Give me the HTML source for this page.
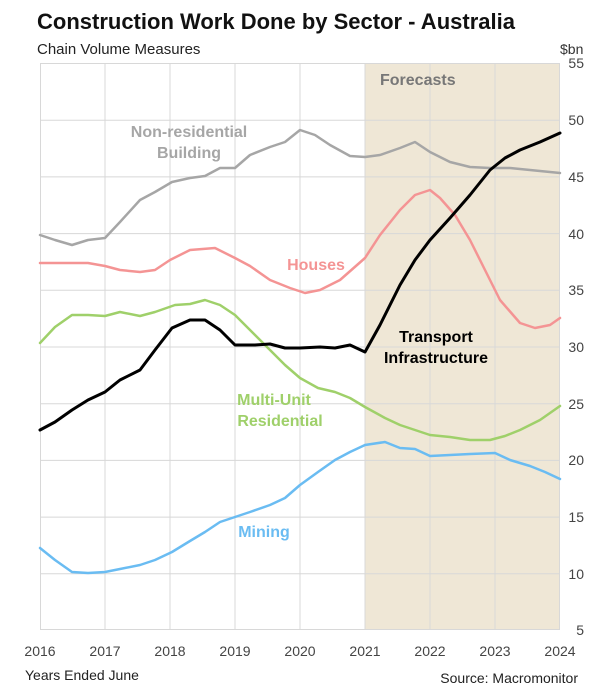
<!DOCTYPE html>
<html><head><style>
body{margin:0;background:#fff;}
svg text{font-family:"Liberation Sans",sans-serif;}
</style></head><body>
<svg width="601" height="692" viewBox="0 0 601 692" xmlns="http://www.w3.org/2000/svg">
<rect width="601" height="692" fill="#fff"/>
<text x="37" y="29" font-size="22" font-weight="bold" fill="#111">Construction Work Done by Sector - Australia</text>
<text x="37" y="54" font-size="15" fill="#222">Chain Volume Measures</text>
<text x="560" y="54" font-size="14" fill="#333">$bn</text>
<rect x="365" y="63" width="195" height="567" fill="#efe7d6"/>
<g stroke="#d8d8d8" stroke-width="1" fill="none">
<rect x="40.5" y="63.5" width="519" height="566"/>
<path d="M40 120.2H560M40 176.9H560M40 233.6H560M40 290.3H560M40 347H560M40 403.7H560M40 460.4H560M40 517.1H560M40 573.8H560"/>
<path d="M105 63V630M170 63V630M235 63V630M300 63V630M365 63V630M430 63V630M495 63V630"/>
</g>
<g font-size="14" fill="#444" text-anchor="end">
<text x="584" y="68">55</text><text x="584" y="125">50</text><text x="584" y="182">45</text><text x="584" y="239">40</text><text x="584" y="295">35</text><text x="584" y="352">30</text><text x="584" y="409">25</text><text x="584" y="465">20</text><text x="584" y="522">15</text><text x="584" y="579">10</text><text x="584" y="635">5</text>
</g>
<g font-size="14" fill="#444" text-anchor="middle">
<text x="40" y="656">2016</text><text x="105" y="656">2017</text><text x="170" y="656">2018</text><text x="235" y="656">2019</text><text x="300" y="656">2020</text><text x="365" y="656">2021</text><text x="430" y="656">2022</text><text x="495" y="656">2023</text><text x="560" y="656">2024</text>
</g>
<text x="25" y="680" font-size="14" fill="#222">Years Ended June</text>
<text x="578" y="683" font-size="14" fill="#222" text-anchor="end">Source: Macromonitor</text>
<text x="380" y="85" font-size="16" font-weight="bold" fill="#777">Forecasts</text>
<g fill="none" stroke-width="2.5" stroke-linejoin="round" stroke-linecap="round">
<polyline stroke="#a6a6a6" points="40,235 55,240 72,245 88,240 105,238 120,222 140,200 155,192 172,182 190,178 205,176 220,168 235,168 250,155 270,147 285,142 300,130 315,135 330,145 350,156 365,157 380,155 400,148 415,142 430,152 450,162 470,167 490,168 510,168 530,170 560,173"/>
<polyline stroke="#f49494" points="40,263 60,263 88,263 105,266 120,270 140,272 155,270 170,260 190,250 215,248 235,258 250,266 270,280 290,288 305,293 320,290 340,280 365,258 380,235 400,210 415,195 430,190 440,198 455,215 470,240 485,270 500,300 520,323 535,328 550,325 560,318"/>
<polyline stroke="#9fd06a" points="40,343 55,327 72,315 88,315 105,316 120,312 140,316 155,312 175,305 190,304 205,300 220,305 235,315 250,330 270,350 285,365 300,378 318,388 335,392 350,398 365,407 385,418 400,425 415,430 430,435 450,437 470,440 490,440 505,436 520,430 540,420 560,406"/>
<polyline stroke="#6abcf2" points="40,548 55,560 72,572 88,573 105,572 120,569 140,565 155,560 172,552 190,541 205,532 220,522 235,517 250,512 270,505 285,498 300,485 318,472 335,460 350,452 365,445 385,442 400,448 415,449 430,456 450,455 470,454 495,453 510,460 530,466 545,472 560,479"/>
<polyline stroke="#000" stroke-width="3" points="40,430 55,422 72,410 88,400 105,392 120,380 140,370 155,350 172,328 190,320 205,320 220,330 235,345 255,345 270,344 285,348 300,348 320,347 335,348 350,345 365,352 380,325 400,285 415,260 430,240 450,218 470,195 490,170 505,158 520,150 540,142 560,133"/>
</g>
<g font-size="16" font-weight="bold" text-anchor="middle">
<text x="189" y="137" fill="#a6a6a6">Non-residential</text>
<text x="189" y="158" fill="#a6a6a6">Building</text>
<text x="316" y="270" fill="#f49494">Houses</text>
<text x="436" y="342" fill="#000">Transport</text>
<text x="436" y="363" fill="#000">Infrastructure</text>
<text x="274" y="405" fill="#9fd06a">Multi-Unit</text>
<text x="280" y="426" fill="#9fd06a">Residential</text>
<text x="264" y="537" fill="#6abcf2">Mining</text>
</g>
</svg>
</body></html>
